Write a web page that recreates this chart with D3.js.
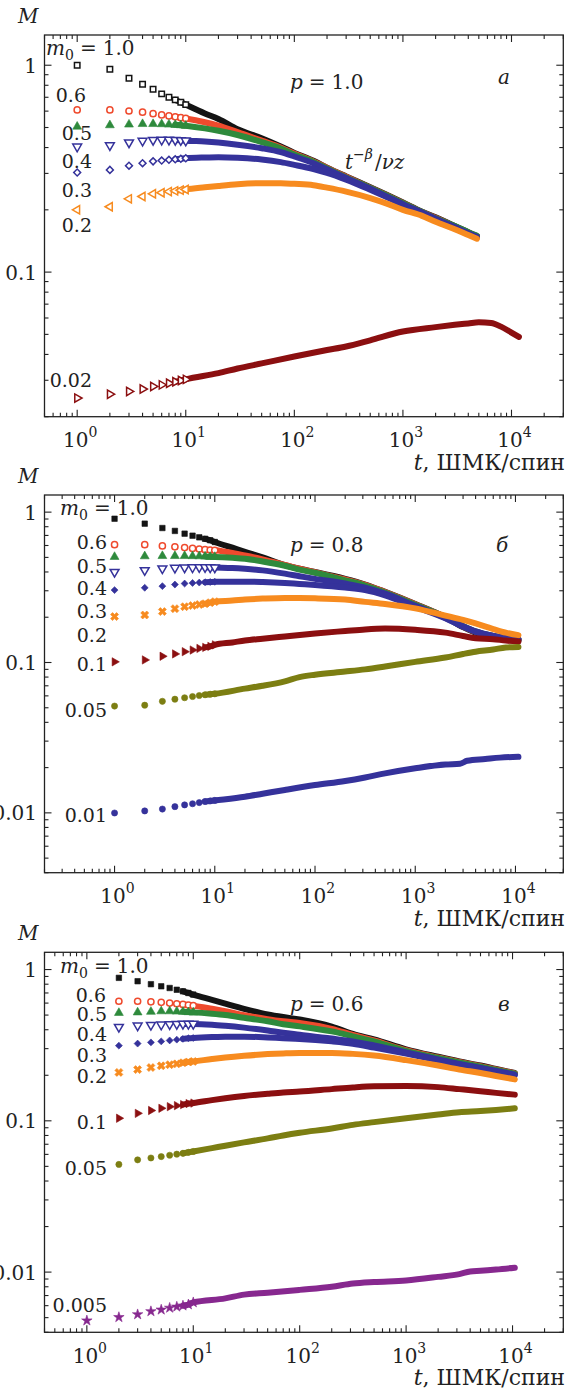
<!DOCTYPE html>
<html>
<head>
<meta charset="utf-8">
<script src="https://cdn.jsdelivr.net/npm/d3@7"></script>
<style>
  html, body { margin: 0; padding: 0; background: #fff; }
  svg { display: block; }
</style>
</head>
<body>
<svg id="fig" width="572" height="1391"></svg>
<script>
// ---------------------------------------------------------------
// Magnetisation relaxation M(t) for several initial m0, log-log.
// Each series: [t (MCS/spin), M]
// ---------------------------------------------------------------

// Panel a, p = 1.0
const a_m100 = [[1,1.0],[2,0.956],[3,0.866],[4,0.81],[5,0.765],[6,0.727],[7,0.70],[8,0.68],[9,0.662],[10,0.645],[15,0.585],[20,0.55],[30,0.49],[50,0.444],[75,0.405],[100,0.377],[150,0.345],[200,0.32],[300,0.29],[500,0.257],[700,0.237],[1000,0.217],[1500,0.196],[2000,0.184],[3000,0.167],[4000,0.156],[4800,0.149]];
const a_m060 = [[1,0.608],[2,0.608],[3,0.601],[4,0.593],[5,0.583],[6,0.575],[7,0.569],[8,0.563],[9,0.558],[10,0.553],[15,0.53],[20,0.51],[30,0.475],[50,0.432],[75,0.4],[100,0.374],[150,0.343],[200,0.319],[300,0.289],[500,0.256],[700,0.236],[1000,0.216],[1500,0.195],[2000,0.183],[3000,0.166],[4000,0.155],[4800,0.149]];
const a_m050 = [[1,0.505],[2,0.513],[3,0.517],[4,0.52],[5,0.52],[6,0.519],[7,0.517],[8,0.515],[9,0.513],[10,0.51],[15,0.495],[20,0.482],[30,0.46],[50,0.425],[75,0.396],[100,0.37],[150,0.341],[200,0.317],[300,0.287],[500,0.255],[700,0.235],[1000,0.215],[1500,0.195],[2000,0.182],[3000,0.167],[4000,0.156],[4800,0.15]];
const a_m040 = [[1,0.404],[2,0.41],[3,0.423],[4,0.431],[5,0.435],[6,0.436],[7,0.436],[8,0.435],[9,0.434],[10,0.432],[15,0.428],[20,0.423],[30,0.413],[50,0.397],[75,0.38],[100,0.362],[150,0.336],[200,0.314],[300,0.285],[500,0.253],[700,0.233],[1000,0.213],[1500,0.194],[2000,0.181],[3000,0.165],[4000,0.154],[4800,0.148]];
const a_m030 = [[1,0.303],[2,0.312],[3,0.327],[4,0.336],[5,0.343],[6,0.346],[7,0.349],[8,0.351],[9,0.353],[10,0.355],[15,0.358],[20,0.359],[30,0.357],[50,0.35],[75,0.34],[100,0.33],[150,0.315],[200,0.302],[300,0.28],[500,0.25],[700,0.231],[1000,0.212],[1500,0.192],[2000,0.179],[3000,0.164],[4000,0.153],[4800,0.147]];
const a_m020 = [[1,0.2],[2,0.207],[3,0.226],[4,0.232],[5,0.239],[6,0.242],[7,0.245],[8,0.247],[9,0.249],[10,0.251],[15,0.257],[20,0.261],[30,0.266],[50,0.269],[75,0.269],[100,0.267],[150,0.263],[200,0.256],[300,0.245],[500,0.228],[700,0.215],[1000,0.2],[1500,0.187],[2000,0.175],[3000,0.161],[4000,0.151],[4800,0.145]];
const a_m002 = [[1,0.0246],[2,0.0257],[3,0.0265],[4,0.0272],[5,0.028],[6,0.0285],[7,0.029],[8,0.0295],[9,0.0299],[10,0.0303],[20,0.0325],[30,0.0342],[50,0.0362],[100,0.0391],[200,0.042],[300,0.0437],[500,0.0468],[1000,0.0516],[2000,0.0542],[3000,0.0556],[4000,0.0565],[5000,0.0572],[6500,0.0568],[8000,0.0545],[10000,0.051],[11700,0.0486]];

// Panel b, p = 0.8
const b_m100 = [[1,0.904],[2,0.838],[3,0.784],[4,0.75],[5,0.719],[6,0.697],[7,0.68],[8,0.665],[9,0.65],[10,0.633],[15,0.58],[20,0.545],[30,0.5],[50,0.445],[70,0.42],[100,0.4],[200,0.36],[316,0.33],[500,0.295],[1000,0.245],[2000,0.2],[3000,0.172],[4000,0.158],[6000,0.146],[8000,0.142],[10700,0.14]];
const b_m060 = [[1,0.608],[2,0.608],[3,0.596],[4,0.588],[5,0.581],[6,0.574],[7,0.568],[8,0.563],[9,0.56],[10,0.557],[15,0.535],[20,0.515],[30,0.485],[50,0.445],[70,0.42],[100,0.398],[200,0.357],[316,0.328],[500,0.294],[1000,0.244],[2000,0.2],[3000,0.174],[4000,0.16],[6000,0.149],[8000,0.145],[10700,0.143]];
const b_m050 = [[1,0.504],[2,0.509],[3,0.511],[4,0.511],[5,0.511],[6,0.51],[7,0.509],[8,0.507],[9,0.505],[10,0.504],[15,0.497],[20,0.49],[30,0.47],[50,0.44],[70,0.415],[100,0.395],[200,0.352],[316,0.325],[500,0.292],[1000,0.242],[2000,0.2],[3000,0.175],[4000,0.161],[6000,0.15],[8000,0.145],[10700,0.143]];
const b_m040 = [[1,0.4],[2,0.411],[3,0.422],[4,0.426],[5,0.428],[6,0.429],[7,0.43],[8,0.43],[9,0.429],[10,0.428],[15,0.425],[20,0.42],[30,0.41],[50,0.39],[70,0.375],[100,0.36],[200,0.335],[316,0.315],[500,0.287],[1000,0.238],[2000,0.198],[3000,0.174],[4000,0.161],[6000,0.15],[8000,0.145],[10700,0.142]];
const b_m030 = [[1,0.303],[2,0.314],[3,0.322],[4,0.33],[5,0.335],[6,0.338],[7,0.34],[8,0.342],[9,0.343],[10,0.344],[15,0.345],[20,0.345],[30,0.343],[50,0.338],[70,0.333],[100,0.328],[200,0.315],[316,0.303],[500,0.28],[1000,0.235],[2000,0.197],[3000,0.173],[4000,0.16],[6000,0.15],[8000,0.145],[10700,0.142]];
const b_m020 = [[1,0.202],[2,0.207],[3,0.218],[4,0.228],[5,0.235],[6,0.239],[7,0.243],[8,0.246],[9,0.25],[10,0.254],[15,0.258],[20,0.262],[30,0.266],[50,0.269],[70,0.268],[100,0.267],[200,0.262],[316,0.253],[500,0.245],[1000,0.229],[2000,0.205],[3000,0.192],[4000,0.182],[6000,0.167],[8000,0.158],[10700,0.152]];
const b_m010 = [[1,0.101],[2,0.104],[3,0.11],[4,0.114],[5,0.118],[6,0.121],[7,0.124],[8,0.126],[9,0.128],[10,0.131],[15,0.136],[20,0.14],[30,0.144],[50,0.149],[100,0.156],[200,0.162],[316,0.166],[500,0.168],[1000,0.165],[2000,0.158],[3000,0.15],[4000,0.145],[6000,0.143],[8000,0.14],[10700,0.138]];
const b_m005 = [[1,0.0513],[2,0.052],[3,0.0552],[4,0.057],[5,0.0583],[6,0.0594],[7,0.0603],[8,0.061],[9,0.0615],[10,0.0619],[20,0.067],[30,0.07],[50,0.075],[70,0.08],[100,0.083],[200,0.087],[316,0.09],[500,0.094],[1000,0.101],[2000,0.108],[3000,0.114],[4000,0.118],[6000,0.122],[8000,0.126],[10700,0.127]];
const b_m001 = [[1,0.00998],[2,0.0103],[3,0.0106],[4,0.011],[5,0.0113],[6,0.0115],[7,0.0117],[8,0.0119],[9,0.012],[10,0.0121],[20,0.0128],[30,0.0134],[50,0.0142],[100,0.0153],[200,0.0163],[316,0.0172],[500,0.0183],[1000,0.0198],[2000,0.021],[2800,0.0212],[3300,0.0222],[5000,0.0228],[7000,0.0233],[10700,0.0236]];

// Panel c, p = 0.6
const c_m100 = [[2,0.881],[3,0.837],[4,0.8],[5,0.775],[6,0.755],[7,0.735],[8,0.718],[9,0.7],[10,0.683],[15,0.63],[20,0.595],[30,0.55],[50,0.505],[70,0.485],[100,0.468],[200,0.42],[316,0.375],[500,0.345],[1000,0.297],[2000,0.265],[3162,0.247],[5000,0.232],[7000,0.22],[10500,0.207]];
const c_m060 = [[2,0.617],[3,0.617],[4,0.612],[5,0.607],[6,0.6],[7,0.594],[8,0.588],[9,0.582],[10,0.577],[15,0.55],[20,0.53],[30,0.5],[50,0.47],[70,0.455],[100,0.443],[200,0.405],[316,0.37],[500,0.34],[1000,0.293],[2000,0.262],[3162,0.245],[5000,0.23],[7000,0.219],[10500,0.206]];
const c_m050 = [[2,0.517],[3,0.521],[4,0.526],[5,0.53],[6,0.53],[7,0.528],[8,0.526],[9,0.523],[10,0.521],[15,0.51],[20,0.5],[30,0.48],[50,0.455],[70,0.435],[100,0.421],[200,0.39],[316,0.362],[500,0.335],[1000,0.29],[2000,0.26],[3162,0.243],[5000,0.228],[7000,0.217],[10500,0.205]];
const c_m040 = [[2,0.417],[3,0.426],[4,0.43],[5,0.432],[6,0.434],[7,0.436],[8,0.437],[9,0.437],[10,0.437],[15,0.432],[20,0.425],[30,0.413],[50,0.395],[70,0.382],[100,0.371],[200,0.35],[316,0.335],[500,0.315],[1000,0.283],[2000,0.255],[3162,0.238],[5000,0.224],[7000,0.214],[10500,0.202]];
const c_m030 = [[2,0.314],[3,0.324],[4,0.33],[5,0.335],[6,0.34],[7,0.344],[8,0.348],[9,0.351],[10,0.353],[15,0.358],[20,0.36],[30,0.36],[50,0.356],[70,0.352],[100,0.348],[200,0.335],[316,0.323],[500,0.305],[1000,0.278],[2000,0.252],[3162,0.236],[5000,0.222],[7000,0.212],[10500,0.2]];
const c_m020 = [[2,0.209],[3,0.218],[4,0.225],[5,0.231],[6,0.235],[7,0.238],[8,0.242],[9,0.245],[10,0.247],[15,0.256],[20,0.262],[30,0.269],[50,0.276],[70,0.279],[100,0.281],[200,0.281],[316,0.277],[500,0.27],[1000,0.252],[2000,0.232],[3162,0.218],[5000,0.207],[7000,0.198],[10500,0.188]];
const c_m010 = [[2,0.104],[3,0.112],[4,0.117],[5,0.121],[6,0.124],[7,0.126],[8,0.128],[9,0.13],[10,0.131],[15,0.137],[20,0.141],[30,0.146],[50,0.151],[70,0.154],[100,0.156],[200,0.162],[316,0.166],[500,0.169],[1000,0.17],[2000,0.167],[3162,0.162],[5000,0.157],[7000,0.153],[10500,0.149]];
const c_m005 = [[2,0.0515],[3,0.0552],[4,0.0568],[5,0.058],[6,0.0592],[7,0.0602],[8,0.061],[9,0.0619],[10,0.0627],[15,0.066],[20,0.0685],[30,0.072],[50,0.0765],[70,0.08],[100,0.0834],[200,0.089],[316,0.094],[500,0.098],[1000,0.104],[2000,0.11],[3162,0.114],[5000,0.116],[7000,0.118],[10500,0.121]];
const c_m0005 = [[1,0.00478],[2,0.00503],[3,0.00525],[4,0.0055],[5,0.00564],[6,0.0058],[7,0.0059],[8,0.006],[9,0.0061],[10,0.0063],[20,0.0067],[30,0.0071],[50,0.0073],[100,0.00763],[200,0.008],[316,0.0084],[500,0.0086],[1000,0.0088],[2000,0.0093],[3162,0.0097],[4000,0.0101],[5000,0.0102],[7000,0.0104],[10500,0.0107]];

// Curve labels (initial magnetisation m0) and panel parameters
const aLabels = ["0.6", "0.5", "0.4", "0.3", "0.2", "0.02"];
const bLabels = ["0.6", "0.5", "0.4", "0.3", "0.2", "0.1", "0.05", "0.01"];
const cLabels = ["0.6", "0.5", "0.4", "0.3", "0.2", "0.1", "0.05", "0.005"];
const pValues = ["1.0", "0.8", "0.6"];
const panelLetters = ["а", "б", "в"];
const yTickLabels = {1: "1", 0.1: "0.1", 0.01: "0.01"};

// ---------------------------------------------------------------
// Styling and layout
// ---------------------------------------------------------------
const C = {
  black: "#141414", red: "#ef4a2d", green: "#2e8a3c", blue: "#35329b",
  orange: "#f78b1f", maroon: "#8b0f10", olive: "#7c7e12", purple: "#87288f"
};
const FONT = "DejaVu Serif";
const FS = 20;
const LEFT = 44.5, RIGHT = 563.3;

const panels = [
  {
    top: 35, bottom: 416.7, xDom: [0.5, 3e4], yDom: [0.02, 1.4],
    series: [
      {d: a_m100, c: C.black,  s: "square",  open: true},
      {d: a_m060, c: C.red,    s: "circle",  open: true},
      {d: a_m050, c: C.green,  s: "triUp",   open: false},
      {d: a_m040, c: C.blue,   s: "triDown", open: true},
      {d: a_m030, c: C.blue,   s: "diamond", open: true},
      {d: a_m020, c: C.orange, s: "triLeft", open: true},
      {d: a_m002, c: C.maroon, s: "triRight",open: true}
    ],
    labels: aLabels,
    labelPos: [[86,101.5],[92,140],[92,168],[92,196.5],[92,231.5],[92,386.5]],
    m0Pos: [46, 55],
    pPos: [290, 89], letterPos: [498, 84], letter: 0,
    showSlope: true
  },
  {
    top: 495, bottom: 872.7, xDom: [0.2, 3e4], yDom: [0.004, 1.3],
    series: [
      {d: b_m100, c: C.black,  s: "square",  open: false},
      {d: b_m060, c: C.red,    s: "circle",  open: true},
      {d: b_m050, c: C.green,  s: "triUp",   open: false},
      {d: b_m040, c: C.blue,   s: "triDown", open: true},
      {d: b_m030, c: C.blue,   s: "diamond", open: false},
      {d: b_m020, c: C.orange, s: "cross",   open: false},
      {d: b_m010, c: C.maroon, s: "triRight",open: false},
      {d: b_m005, c: C.olive,  s: "dot",     open: false},
      {d: b_m001, c: C.blue,   s: "dot",     open: false}
    ],
    labels: bLabels,
    labelPos: [[107,549],[107,573],[107,595],[107,618],[107,641.5],[107,670.5],[107,717],[107,821.5]],
    m0Pos: [60, 515],
    pPos: [290, 552], letterPos: [496, 552], letter: 1,
    showSlope: false
  },
  {
    top: 952.3, bottom: 1332.3, xDom: [0.4, 3e4], yDom: [0.004, 1.3],
    series: [
      {d: c_m100, c: C.black,  s: "square",  open: false},
      {d: c_m060, c: C.red,    s: "circle",  open: true},
      {d: c_m050, c: C.green,  s: "triUp",   open: false},
      {d: c_m040, c: C.blue,   s: "triDown", open: true},
      {d: c_m030, c: C.blue,   s: "diamond", open: false},
      {d: c_m020, c: C.orange, s: "cross",   open: false},
      {d: c_m010, c: C.maroon, s: "triRight",open: false},
      {d: c_m005, c: C.olive,  s: "dot",     open: false},
      {d: c_m0005,c: C.purple, s: "star",    open: false}
    ],
    labels: cLabels,
    labelPos: [[106,1001.5],[107,1021],[107,1040.5],[107,1061.5],[107,1082.5],[107,1129],[107,1175],[107,1312]],
    m0Pos: [60, 973],
    pPos: [290, 1011], letterPos: [498, 1011], letter: 2,
    showSlope: false
  }
];

const svg = d3.select("#fig");

// marker geometry: symbol type, area, rotation
const SHAPES = {
  square:   {t: d3.symbolSquare,   a: 30, r: 0},
  circle:   {t: d3.symbolCircle,   a: 30, r: 0},
  triUp:    {t: d3.symbolTriangle, a: 34, r: 0},
  triDown:  {t: d3.symbolTriangle, a: 34, r: 180},
  triLeft:  {t: d3.symbolTriangle, a: 30, r: -90},
  triRight: {t: d3.symbolTriangle, a: 30, r: 90},
  diamond:  {t: d3.symbolSquare,   a: 24, r: 45},
  cross:    {t: d3.symbolCross,    a: 40, r: 45},
  dot:      {t: d3.symbolCircle,   a: 30, r: 0},
  star:     {t: d3.symbolStar,     a: 34, r: 0}
};

// text helper: every label gets the serif face and a dark fill
function txt(g, x, y, size) {
  return g.append("text")
    .attr("x", x).attr("y", y)
    .style("font-family", FONT)
    .attr("font-size", size || FS)
    .attr("fill", "#222");
}

function drawPanel(P) {
  const x = d3.scaleLog().domain(P.xDom).range([LEFT, RIGHT]);
  const y = d3.scaleLog().domain(P.yDom).range([P.bottom, P.top]);
  const g = svg.append("g");

  // series: dense band of overlapping markers as a thick line, early points as markers
  const line = d3.line().x(d => x(d[0])).y(d => y(d[1])).curve(d3.curveMonotoneX);
  P.series.forEach(S => {
    const band = S.d.filter(d => d[0] >= 8);
    g.append("path")
      .attr("d", line(band))
      .attr("fill", "none")
      .attr("stroke", S.c)
      .attr("stroke-width", 6)
      .attr("stroke-linecap", "round")
      .attr("stroke-linejoin", "round");
    const sh = SHAPES[S.s];
    const sym = d3.symbol().type(sh.t).size(sh.a);
    g.selectAll(null)
      .data(S.d.filter(d => d[0] <= 10))
      .join("path")
      .attr("d", sym)
      .attr("transform", d => `translate(${x(d[0])},${y(d[1])}) rotate(${sh.r})`)
      .attr("fill", S.open ? "#fff" : S.c)
      .attr("stroke", S.c)
      .attr("stroke-width", S.open ? 1.5 : 0.6);
  });

  // frame
  g.append("rect")
    .attr("x", LEFT).attr("y", P.top)
    .attr("width", RIGHT - LEFT).attr("height", P.bottom - P.top)
    .attr("fill", "none").attr("stroke", "#222").attr("stroke-width", 1.3);

  // ticks on all four sides, pointing inward
  const isMajor = v => Math.abs(Math.log10(v) - Math.round(Math.log10(v))) < 1e-9;
  const tk = g.append("g").attr("stroke", "#222").attr("stroke-width", 1.1);
  x.ticks().forEach(v => {
    const L = isMajor(v) ? 7 : 4, xx = x(v);
    tk.append("line").attr("x1", xx).attr("x2", xx).attr("y1", P.bottom).attr("y2", P.bottom - L);
    tk.append("line").attr("x1", xx).attr("x2", xx).attr("y1", P.top).attr("y2", P.top + L);
  });
  y.ticks().forEach(v => {
    const L = isMajor(v) ? 7 : 4, yy = y(v);
    tk.append("line").attr("x1", LEFT).attr("x2", LEFT + L).attr("y1", yy).attr("y2", yy);
    tk.append("line").attr("x1", RIGHT).attr("x2", RIGHT - L).attr("y1", yy).attr("y2", yy);
  });

  // x tick labels 10^k
  x.ticks().filter(isMajor).forEach(v => {
    const k = Math.round(Math.log10(v));
    const t = txt(g, x(v) + 3, P.bottom + 30.5).attr("text-anchor", "middle");
    t.append("tspan").text("10");
    t.append("tspan").attr("dy", -10).attr("font-size", 14).text(k);
  });

  // y tick labels
  y.ticks().filter(isMajor).forEach(v => {
    const key = Object.keys(yTickLabels).find(s => Math.abs(+s - v) < 1e-12);
    if (!key) return;
    txt(g, 37, y(v) + 7.5).attr("text-anchor", "end").text(yTickLabels[key]);
  });

  // axis titles
  txt(g, 18, P.top - 12).attr("font-style", "italic").text("M");
  const xt = txt(g, 565, P.bottom + 53, 22).attr("text-anchor", "end");
  xt.append("tspan").attr("font-style", "italic").text("t");
  xt.append("tspan").text(", ШМК");
  xt.append("tspan").text("/");
  xt.append("tspan").text("спин");

  // m0 = 1.0 label
  const m0 = txt(g, P.m0Pos[0], P.m0Pos[1]);
  m0.append("tspan").attr("font-style", "italic").text("m");
  m0.append("tspan").attr("dy", 5).attr("font-size", 14).text("0");
  m0.append("tspan").attr("dy", -5).attr("dx", 6).text("=");
  m0.append("tspan").attr("dx", 6).text("1.0");

  // remaining m0 labels
  P.labels.forEach((s, i) => {
    txt(g, P.labelPos[i][0], P.labelPos[i][1], 19).attr("text-anchor", "end").text(s);
  });

  // p value and panel letter
  const pt = txt(g, P.pPos[0], P.pPos[1]);
  pt.append("tspan").attr("font-style", "italic").text("p");
  pt.append("tspan").attr("dx", 6).text("=");
  pt.append("tspan").attr("dx", 6).text(pValues[P.letter]);
  txt(g, P.letterPos[0], P.letterPos[1]).attr("font-style", "italic").text(panelLetters[P.letter]);

  // scaling-law annotation
  if (P.showSlope) {
    const st = txt(g, 345, 169);
    st.append("tspan").attr("font-style", "italic").text("t");
    st.append("tspan").attr("dy", -10).attr("font-size", 14).text("−");
    st.append("tspan").attr("font-size", 14).attr("font-style", "italic").text("β");
    st.append("tspan").attr("dy", 10).attr("dx", 2).text("/");
    st.append("tspan").attr("font-style", "italic").text("νz");
  }
}

panels.forEach(drawPanel);
</script>
</body>
</html>
